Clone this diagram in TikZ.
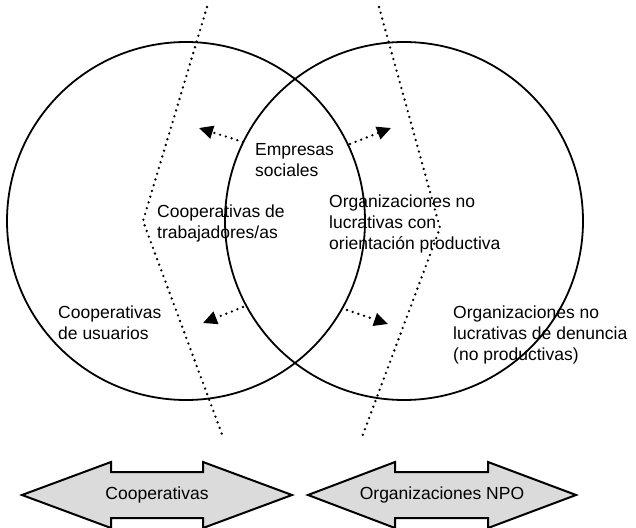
\documentclass[tikz,border=0pt]{standalone}
\usepackage{fontspec}
\setmainfont{Liberation Sans}
\usetikzlibrary{arrows.meta}
\tikzset{
  >={Triangle[length=14pt,width=13pt]},
  {set circle/.style} ={circle,draw,line width=1.8pt,inner sep=0,
                  minimum size=358pt},
  {border line/.style} ={line width=2.6pt,line cap=round,
                  dash pattern=on 0pt off 6pt},
  {shift arrow/.style} ={border line,->},
  {set text/.style} ={align=left,inner sep=0,anchor=base west,
                  font=\fontsize{17.5}{21}\selectfont},
  {band arrow/.style} ={draw,line width=2pt,fill=black!14,line join=miter},
  {band text/.style} ={set text,anchor=center},
}
\begin{document}
\begin{tikzpicture}[x=1pt,y=-1pt]
\useasboundingbox (0,0) rectangle (636,527);
% the two sets
\node[set circle] (coop) at (186,221) {};
\node[set circle] (npo) at (404,221) {};
% dotted borders
\coordinate (left top) at (207,7);
\coordinate (left kink) at (143,221);
\coordinate (left bottom) at (223,437);
\coordinate (right top) at (379,7);
\coordinate (right kink) at (440,228);
\coordinate (right bottom) at (362,437);
\draw[border line] (left top) -- (left kink) -- (left bottom);
\draw[border line] (right top) -- (right kink) -- (right bottom);
% shifts
\coordinate (ul tail) at (243,142);
\coordinate (ul tip) at (199,128);
\coordinate (ur tail) at (350,144);
\coordinate (ur tip) at (391,128);
\coordinate (ll tail) at (243,307);
\coordinate (ll tip) at (203,323);
\coordinate (lr tail) at (347,310);
\coordinate (lr tip) at (388,324);
\draw[shift arrow] (ul tail) -- (ul tip);
\draw[shift arrow] (ur tail) -- (ur tip);
\draw[shift arrow] (ll tail) -- (ll tip);
\draw[shift arrow] (lr tail) -- (lr tip);
% texts (placed at the baseline of their last line)
\node[set text] (social) at (255,176) {Empresas\\sociales};
\node[set text] (workers) at (157,238) {Cooperativas de\\trabajadores/as};
\node[set text] (productive) at (329,249)
      {Organizaciones no\\lucrativas con\\orientación productiva};
\node[set text] (users) at (58,339) {Cooperativas\\de usuarios};
\node[set text] (advocacy) at (453,360)
      {Organizaciones no\\lucrativas de denuncia\\(no productivas)};
% bands at the bottom
\draw[band arrow] (22,495) -- (111,462) -- (111,472) -- (203,472)
      -- (203,462) -- (292,495) -- (203,528) -- (203,518)
      -- (111,518) -- (111,528) -- cycle;
\draw[band arrow] (308,495) -- (395,462) -- (395,472) -- (488,472)
      -- (488,462) -- (576,495) -- (488,528) -- (488,518)
      -- (395,518) -- (395,528) -- cycle;
\node[band text] (coop band) at (157,495) {Cooperativas};
\node[band text] (npo band) at (442,495) {Organizaciones NPO};
\end{tikzpicture}
\end{document}
